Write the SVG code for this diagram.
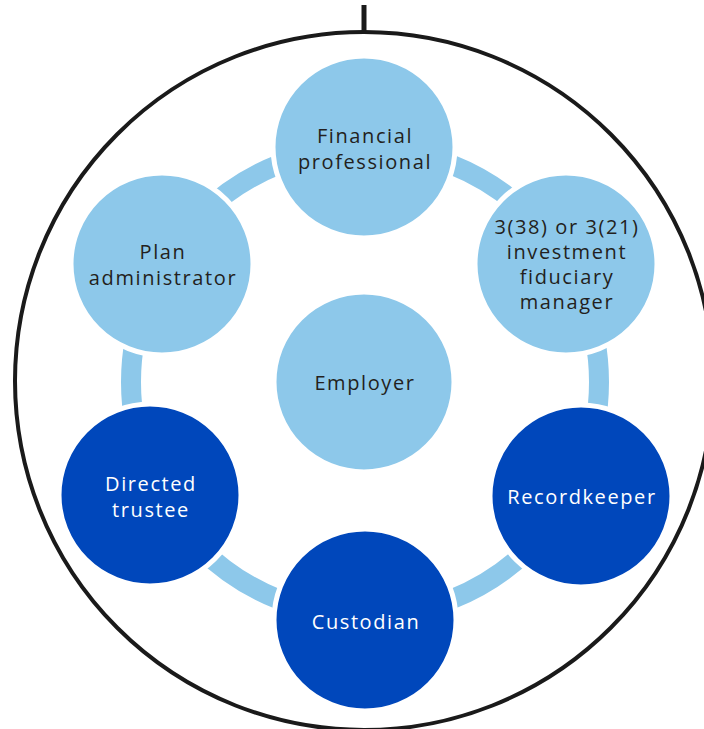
<svg xmlns="http://www.w3.org/2000/svg" width="704" height="729" viewBox="0 0 704 729">
<style>
.lt{fill:#8DC8EA;stroke:#fff;stroke-width:5}
.dk{fill:#0047BB;stroke:#fff;stroke-width:5}
text{font-family:"Open Sans","DejaVu Sans",sans-serif;font-size:20px;letter-spacing:1.6px;text-anchor:middle;dominant-baseline:central}
.tl{fill:#231f20}
.td{fill:#fff}
</style>
<rect width="704" height="729" fill="#fff"/>
<g id="frame">
<line x1="364" y1="5" x2="364" y2="33" stroke="#1a1a1a" stroke-width="5"/>
<circle cx="364" cy="381" r="349" fill="none" stroke="#1a1a1a" stroke-width="4"/>
</g>
<g id="connectors">
<circle cx="365" cy="382" r="234" fill="none" stroke="#8DC8EA" stroke-width="20"/>
</g>
<g id="employer"><circle class="lt" cx="364" cy="382" r="90"/><text class="tl" x="365" y="382">Employer</text></g>
<g id="financial-professional"><circle class="lt" cx="364" cy="147" r="91"/><text class="tl" x="365" y="135">Financial</text><text class="tl" x="365" y="161">professional</text></g>
<g id="plan-administrator"><circle class="lt" cx="162" cy="264" r="91"/><text class="tl" x="163" y="251">Plan</text><text class="tl" x="163" y="277">administrator</text></g>
<g id="investment-fiduciary"><circle class="lt" cx="566" cy="264" r="91"/><text class="tl" x="567" y="226">3(38) or 3(21)</text><text class="tl" x="567" y="251">investment</text><text class="tl" x="567" y="276">fiduciary</text><text class="tl" x="567" y="301">manager</text></g>
<g id="directed-trustee"><circle class="dk" cx="150" cy="495" r="91"/><text class="td" x="151" y="483">Directed</text><text class="td" x="151" y="509">trustee</text></g>
<g id="recordkeeper"><circle class="dk" cx="581" cy="496" r="91"/><text class="td" x="582" y="496">Recordkeeper</text></g>
<g id="custodian"><circle class="dk" cx="365" cy="620" r="91"/><text class="td" x="366" y="621">Custodian</text></g>
</svg>
